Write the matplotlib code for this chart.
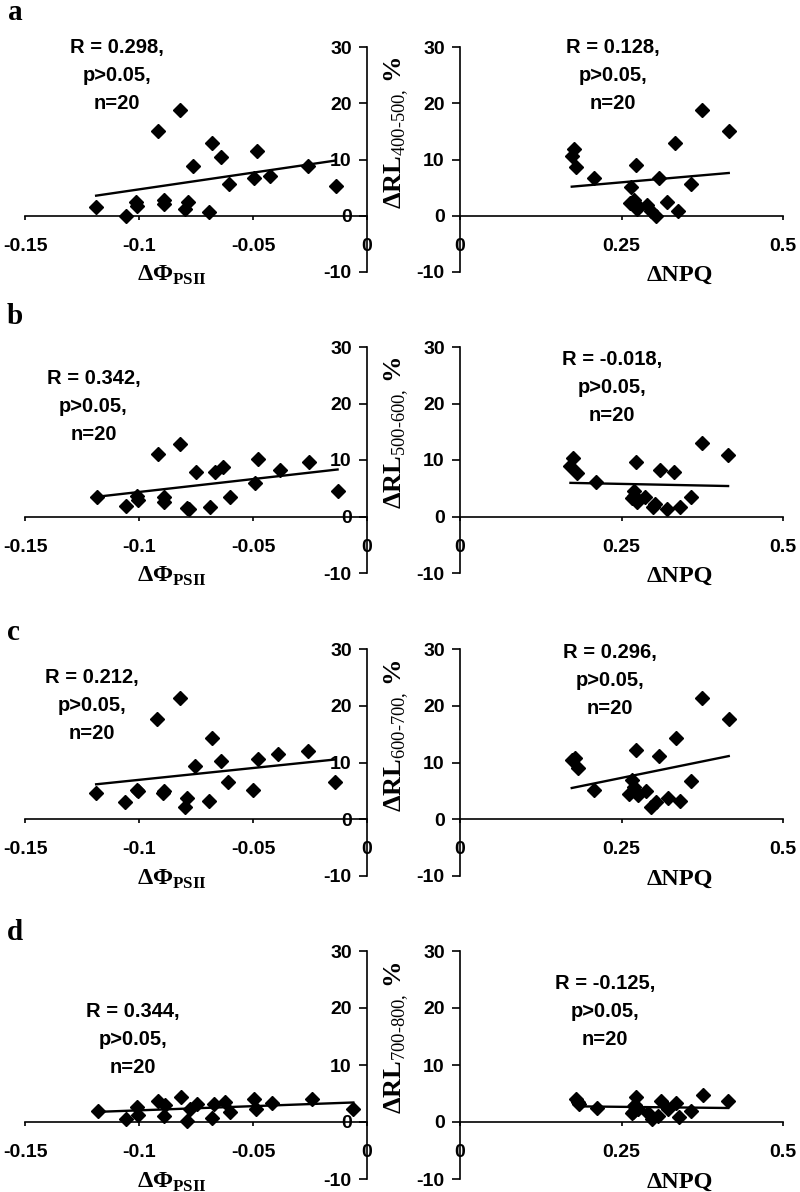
import numpy as np
import matplotlib
matplotlib.use("Agg")
import matplotlib.pyplot as plt

plt.rcParams['axes.unicode_minus'] = False
plt.rcParams['mathtext.fontset'] = 'custom'
plt.rcParams['mathtext.rm'] = 'Liberation Serif'
plt.rcParams['mathtext.bf'] = 'Liberation Serif:bold'

# dPhiPSII (left column) and dRL (y)
phi_a = [-0.1188, -0.1058, -0.1013, -0.1010, -0.0916, -0.0890, -0.0890, -0.0820, -0.0786, -0.0800,
         -0.0761, -0.0691, -0.0679, -0.0639, -0.0606, -0.0483, -0.0497, -0.0424, -0.0260, -0.0138]
rl_phi_a = [1.5, 0.0, 2.4, 1.8, 15.1, 2.8, 2.1, 18.8, 2.5, 1.2,
            8.9, 0.6, 12.9, 10.5, 5.6, 11.6, 6.7, 7.0, 8.9, 5.3]

phi_b = [-0.1185, -0.1057, -0.1010, -0.1005, -0.0915, -0.0890, -0.0890, -0.0820, -0.0790, -0.0780,
         -0.0749, -0.0688, -0.0666, -0.0632, -0.0603, -0.0479, -0.0490, -0.0383, -0.0256, -0.0129]
rl_phi_b = [3.4, 1.8, 3.6, 3.0, 11.0, 3.4, 2.5, 12.8, 1.5, 1.3,
            7.8, 1.7, 7.9, 8.8, 3.4, 10.2, 5.9, 8.2, 9.6, 4.5]

phi_c = [-0.1188, -0.1060, -0.1009, -0.1005, -0.0921, -0.0895, -0.0890, -0.0820, -0.0788, -0.0798,
         -0.0755, -0.0694, -0.0680, -0.0639, -0.0610, -0.0479, -0.0502, -0.0392, -0.0258, -0.0139]
rl_phi_c = [4.6, 3.0, 5.2, 4.9, 17.6, 4.6, 5.0, 21.4, 3.7, 2.2,
            9.3, 3.2, 14.4, 10.2, 6.5, 10.6, 5.2, 11.5, 12.1, 6.5]

phi_d = [-0.1182, -0.1057, -0.1010, -0.1003, -0.0915, -0.0886, -0.0890, -0.0814, -0.0790, -0.0775,
         -0.0746, -0.0680, -0.0670, -0.0622, -0.0600, -0.0497, -0.0486, -0.0415, -0.0240, -0.0060]
rl_phi_d = [2.0, 0.6, 2.6, 1.3, 3.6, 3.0, 1.1, 4.3, 0.2, 2.3,
            3.2, 0.7, 3.2, 3.5, 1.7, 4.0, 2.3, 3.3, 4.0, 2.3]

# dNPQ (right column) and dRL
npq_a = [0.173, 0.177, 0.180, 0.208, 0.265, 0.272, 0.263, 0.269, 0.274, 0.274,
         0.289, 0.295, 0.304, 0.308, 0.320, 0.333, 0.337, 0.358, 0.3745, 0.416]
rl_npq_a = [10.6, 11.9, 8.6, 6.8, 5.2, 9.0, 2.3, 2.8, 2.0, 1.2,
            2.0, 0.9, -0.1, 6.8, 2.5, 12.9, 0.8, 5.6, 18.8, 15.1]

npq_b = [0.171, 0.175, 0.181, 0.210, 0.269, 0.273, 0.266, 0.270, 0.274, 0.276,
         0.287, 0.298, 0.302, 0.310, 0.321, 0.332, 0.341, 0.358, 0.374, 0.415]
rl_npq_b = [8.9, 10.4, 7.7, 6.1, 4.6, 9.7, 3.3, 3.6, 2.6, 3.0,
            3.5, 1.7, 2.2, 8.3, 1.3, 7.9, 1.6, 3.5, 13.0, 10.9]

npq_c = [0.173, 0.178, 0.183, 0.208, 0.267, 0.262, 0.272, 0.272, 0.275, 0.269,
         0.288, 0.296, 0.304, 0.308, 0.322, 0.335, 0.340, 0.358, 0.3746, 0.416]
rl_npq_c = [10.4, 10.8, 9.1, 5.1, 6.9, 4.5, 12.2, 4.8, 4.3, 5.6,
            5.0, 2.2, 3.1, 11.2, 3.7, 14.3, 3.2, 6.7, 21.3, 17.6]

npq_d = [0.180, 0.182, 0.184, 0.212, 0.273, 0.267, 0.270, 0.276, 0.271, 0.268,
         0.291, 0.297, 0.306, 0.311, 0.322, 0.334, 0.339, 0.358, 0.376, 0.415]
rl_npq_d = [4.0, 3.5, 3.1, 2.5, 4.3, 1.5, 2.8, 2.2, 3.0, 1.8,
            1.6, 0.5, 1.0, 3.6, 2.3, 3.4, 0.9, 1.9, 4.7, 3.7]

stats_phi = ["R = 0.298,\np>0.05,\nn=20", "R = 0.342,\np>0.05,\nn=20",
             "R = 0.212,\np>0.05,\nn=20", "R = 0.344,\np>0.05,\nn=20"]
stats_npq = ["R = 0.128,\np>0.05,\nn=20", "R = -0.018,\np>0.05,\nn=20",
             "R = 0.296,\np>0.05,\nn=20", "R = -0.125,\np>0.05,\nn=20"]
bands = ["400-500", "500-600", "600-700", "700-800"]
letters = ["a", "b", "c", "d"]

phi_x = [phi_a, phi_b, phi_c, phi_d]
phi_y = [rl_phi_a, rl_phi_b, rl_phi_c, rl_phi_d]
npq_x = [npq_a, npq_b, npq_c, npq_d]
npq_y = [rl_npq_a, rl_npq_b, rl_npq_c, rl_npq_d]

# layout in pixels (figure is 800 x 1192)
W, H = 800.0, 1192.0
rows = [(47, 272), (347, 573), (649, 876), (951, 1179)]
letter_pos = [(15, 12), (15, 317), (13, 632), (15, 933)]
txt_phi = [(-0.1096, 25.0), (-0.120, 19.4), (-0.1206, 20.1), (-0.1026, 14.5)]
txt_npq = [(0.237, 25.0), (0.235, 22.9), (0.232, 24.4), (0.224, 19.3)]

tick_font = dict(family='Liberation Sans', weight='bold', size=14)
serif = 'Liberation Serif'

fig = plt.figure(figsize=(8, 11.92), dpi=100)


def style(ax, xlim, xticks, xlabels):
    ax.set_xlim(*xlim)
    ax.set_ylim(-10, 30)
    for s in ['top', 'right']:
        ax.spines[s].set_visible(False)
    ax.spines['left'].set_position(('data', 0))
    ax.spines['bottom'].set_position(('data', 0))
    for s in ['left', 'bottom']:
        ax.spines[s].set_linewidth(1.2)
    ax.set_yticks([-10, 0, 10, 20, 30])
    ax.set_yticklabels(['-10', '0', '10', '20', '30'], fontdict=tick_font)
    ax.set_xticks(xticks)
    ax.set_xticklabels(xlabels, fontdict=tick_font)
    ax.tick_params(axis='y', direction='out', length=6, width=1.2, pad=5)
    ax.tick_params(axis='x', direction='out', length=3, width=1.2, pad=13)
    ax.patch.set_visible(False)


def scatter_fit(ax, x, y):
    x = np.array(x)
    y = np.array(y)
    ax.plot(x, y, 'D', color='black', markersize=7.5, clip_on=False, zorder=3)
    k, b = np.polyfit(x, y, 1)
    xx = np.array([x.min(), x.max()])
    ax.plot(xx, k * xx + b, color='black', lw=1.7, zorder=2)


for i in range(4):
    top, bot = rows[i]
    ax1 = fig.add_axes([25 / W, 1 - bot / H, 342 / W, (bot - top) / H])
    style(ax1, (-0.15, 0), [-0.15, -0.1, -0.05, 0], ['-0.15', '-0.1', '-0.05', '0'])
    scatter_fit(ax1, phi_x[i], phi_y[i])
    ax1.text(txt_phi[i][0], txt_phi[i][1], stats_phi[i], ha='center', va='center',
             family='Liberation Sans', weight='bold', size=14.5, linespacing=1.6)
    ax1.text(0.43, -0.015, r'ΔΦ$_{\mathbf{PSII}}$', transform=ax1.transAxes,
             ha='center', va='center', family=serif, weight='bold', size=17.5)

    ax2 = fig.add_axes([460 / W, 1 - bot / H, 323 / W, (bot - top) / H])
    style(ax2, (0, 0.5), [0, 0.25, 0.5], ['0', '0.25', '0.5'])
    scatter_fit(ax2, npq_x[i], npq_y[i])
    ax2.text(txt_npq[i][0], txt_npq[i][1], stats_npq[i], ha='center', va='center',
             family='Liberation Sans', weight='bold', size=14.5, linespacing=1.6)
    ax2.text(0.681, -0.015, 'ΔNPQ', transform=ax2.transAxes,
             ha='center', va='center', family=serif, weight='bold', size=17.5)
    ax2.text(-0.195, 0.62, r'ΔRL$_{\text{%s,}}$ %%' % bands[i], transform=ax2.transAxes,
             rotation=90, ha='center', va='center', family=serif, weight='bold', size=19)

    fig.text(letter_pos[i][0] / W, 1 - letter_pos[i][1] / H, letters[i], ha='center', va='center',
             family=serif, weight='bold', size=21)

fig.savefig('out.png', dpi=100)
